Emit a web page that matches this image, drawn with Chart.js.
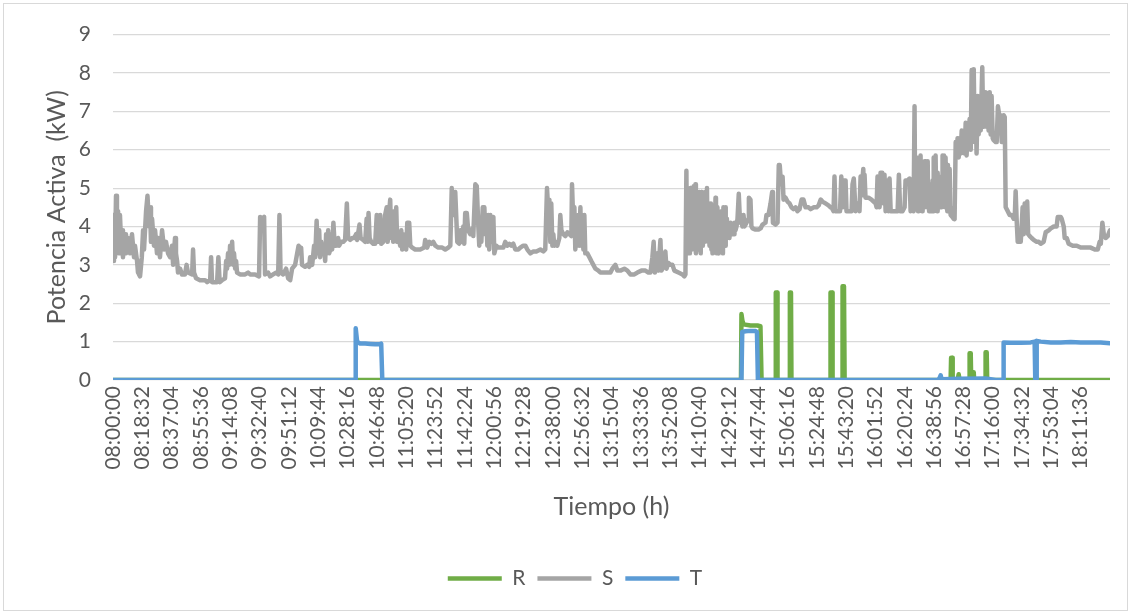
<!DOCTYPE html>
<html>
<head>
<meta charset="utf-8">
<script src="https://cdn.jsdelivr.net/npm/chart.js@4.4.1/dist/chart.umd.min.js"></script>
<style>
html, body { margin: 0; padding: 0; background: #fff; }
#wrap { position: relative; width: 1132px; height: 615px; }
#grafico { position: absolute; left: 0; top: 0; }
#marco { position: absolute; left: 3px; top: 3px; width: 1125px; height: 608px; border: 1px solid #d9d9d9; box-sizing: border-box; pointer-events: none; }
</style>
</head>
<body>
<div id="wrap">
  <canvas id="grafico" width="1132" height="615"></canvas>
  <div id="marco"></div>
</div>
<script>
// etiquetas del eje X (hora)
var etiquetas = ['08:00:00','08:18:32','08:37:04','08:55:36','09:14:08','09:32:40','09:51:12','10:09:44',
  '10:28:16','10:46:48','11:05:20','11:23:52','11:42:24','12:00:56','12:19:28','12:38:00','12:56:32',
  '13:15:04','13:33:36','13:52:08','14:10:40','14:29:12','14:47:44','15:06:16','15:24:48','15:43:20',
  '16:01:52','16:20:24','16:38:56','16:57:28','17:16:00','17:34:32','17:53:04','18:11:36'];

// minutos desde las 08:00:00, kW
var faseR = [[0,0],[396.9,0],[397.2,1.72],[397.8,1.55],[398.5,1.45],[402.9,1.42],[407.3,1.42],[409.2,1.4],[409.9,0],
  [418.7,0],[418.9,2.28],[419.7,2.28],[420.0,0],[427.6,0],[427.8,2.28],[428.5,2.28],[428.8,0],
  [453.2,0],[453.5,2.28],[454.5,2.28],[454.8,0],[460.8,0],[461.1,2.44],[462.0,2.44],[462.4,0],
  [529.4,0],[529.7,0.58],[530.4,0.58],[530.7,0],[533.8,0],[534.5,0.15],[535.1,0],[541.1,0],[541.4,0.7],
  [542.1,0.7],[542.4,0],[543.6,0],[544.0,0.2],[544.3,0],[551.2,0],[551.5,0.72],[552.2,0.72],[552.5,0],[630.1,0]];

var faseS = [[0,3.1],[0.6,4.3],[1.3,3.2],[1.9,4.8],[2.5,4.0],[3.2,4.4],[3.8,3.3],[4.4,4.3],[5.1,3.6],[5.7,3.9],
  [6.3,3.2],[7.6,3.8],[8.2,3.3],[9.5,3.7],[10.8,3.3],[12.0,3.8],[13.3,3.2],[13.9,3.5],[15.2,3.1],[15.8,2.8],
  [17.1,2.7],[18.2,3.2],[19.0,3.9],[19.6,3.4],[20.9,4.4],[21.8,4.8],[22.8,4.0],[23.4,4.5],[24.0,3.6],[24.7,4.2],
  [25.9,3.5],[26.6,3.9],[27.8,3.3],[28.5,3.7],[29.7,3.2],[31.0,3.9],[32.3,3.4],[33.5,3.6],[34.8,3.3],[36.1,3.2],
  [37.3,3.5],[38.0,3.0],[39.2,3.7],[39.8,3.3],[40.5,3.1],[41.1,2.8],[42.4,2.9],[43.6,2.75],[45.5,2.75],[46.5,3.0],
  [47.4,2.8],[50.0,2.75],[50.6,3.4],[51.2,2.8],[52.5,2.65],[55.0,2.6],[58.2,2.6],[59.5,2.55],[61.4,2.6],[62.0,3.2],
  [62.6,2.55],[65.8,2.55],[66.6,3.2],[67.4,2.55],[68.9,2.6],[70.8,2.65],[71.5,3.1],[72.1,2.9],[72.7,3.3],[73.4,3.0],
  [74.0,3.5],[74.6,3.2],[75.3,3.6],[75.9,3.0],[76.5,3.3],[77.2,2.9],[77.8,3.1],[78.4,2.8],[80.3,2.75],[83.5,2.75],
  [85.4,2.8],[86.7,2.75],[89.8,2.75],[92.3,2.7],[93.0,4.25],[94.2,4.2],[95.5,4.25],[96.1,2.75],[98.0,2.8],[99.3,2.7],
  [101.2,2.75],[103.1,2.8],[104.4,2.75],[105.2,4.3],[105.9,2.8],[107.5,2.75],[109.4,2.9],[110.7,2.65],[112.0,2.6],
  [113.2,2.9],[115.1,3.0],[116.4,3.3],[117.3,3.5],[118.3,3.3],[118.9,3.45],[119.5,3.0],[121.4,2.95],[122.7,3.0],
  [124.0,2.95],[124.6,3.2],[125.9,3.0],[127.1,3.5],[127.8,3.2],[128.7,4.15],[129.3,3.3],[130.3,3.9],[130.9,3.2],
  [131.6,3.6],[132.2,3.3],[133.5,3.4],[134.1,3.1],[134.7,3.8],[135.4,3.3],[136.0,3.9],[136.6,3.3],[137.3,3.4],
  [137.9,3.8],[138.5,3.4],[139.3,4.1],[140.1,3.5],[141.0,3.5],[142.3,3.7],[142.9,3.5],[144.2,3.6],[145.5,3.6],
  [146.7,3.65],[147.8,4.6],[148.6,3.7],[149.9,3.65],[151.2,3.7],[152.4,3.7],[153.7,3.8],[154.3,3.65],[155.8,4.05],
  [156.5,3.7],[158.1,3.65],[159.4,3.6],[160.3,4.2],[161.0,3.6],[161.5,4.35],[162.2,3.7],[163.2,3.6],[164.5,3.55],
  [165.7,3.55],[166.7,4.3],[167.6,3.6],[168.2,3.8],[168.9,4.3],[169.5,3.55],[170.8,3.6],[172.0,4.3],[173.0,4.5],
  [173.6,3.6],[174.6,4.4],[175.2,4.7],[175.8,3.7],[176.5,4.2],[177.1,3.6],[177.7,4.4],[178.4,3.7],[179.0,4.5],
  [179.6,3.6],[180.3,3.8],[181.5,3.5],[182.2,3.9],[182.8,3.4],[183.4,3.8],[184.1,3.5],[185.3,3.4],[186.0,4.1],
  [187.2,4.1],[187.9,3.5],[189.1,3.45],[191.0,3.4],[194.2,3.4],[196.7,3.45],[197.3,3.65],[198.6,3.45],[199.9,3.6],
  [201.1,3.55],[202.4,3.6],[203.7,3.5],[205.6,3.45],[208.1,3.45],[210.0,3.4],[211.9,3.45],[213.2,3.5],[214.1,5.0],
  [215.1,4.3],[216.3,4.9],[217.6,3.6],[218.8,3.55],[219.5,3.9],[220.7,3.6],[221.4,4.0],[222.0,3.55],[222.6,4.35],
  [223.6,4.35],[224.5,3.9],[225.8,3.8],[227.1,3.95],[227.7,3.75],[229.0,5.1],[229.9,5.05],[230.9,4.0],[231.5,3.5],
  [232.1,4.1],[232.8,3.6],[233.7,4.5],[234.7,4.5],[235.3,3.8],[235.9,4.2],[236.6,3.5],[237.2,4.3],[237.8,3.4],
  [238.5,4.3],[239.1,3.6],[240.4,4.25],[241.0,3.3],[242.2,3.5],[243.5,3.45],[245.4,3.45],[246.7,3.45],[247.9,3.6],
  [249.2,3.5],[250.5,3.55],[251.7,3.5],[253.0,3.55],[254.3,3.4],[256.2,3.4],[257.4,3.45],[259.3,3.5],[260.6,3.5],
  [261.9,3.4],[263.8,3.3],[265.7,3.35],[267.6,3.35],[270.1,3.4],[272.0,3.35],[273.2,3.4],[274.3,5.0],[275.1,4.4],
  [275.8,4.7],[276.4,3.6],[277.0,4.6],[277.7,3.5],[278.3,3.8],[278.9,3.5],[279.6,3.6],[280.8,3.5],[282.1,3.7],
  [282.7,4.3],[283.4,3.9],[284.6,3.8],[285.9,3.75],[287.2,3.85],[288.4,3.8],[289.7,3.75],[290.1,5.1],[291.0,4.0],
  [291.6,4.5],[292.2,3.4],[292.8,4.2],[293.5,3.6],[294.1,4.3],[294.7,3.5],[295.4,4.5],[296.0,3.5],[296.6,4.3],
  [297.3,3.4],[297.9,4.3],[298.5,3.3],[299.8,3.3],[301.1,3.2],[302.3,3.1],[303.6,3.0],[304.9,2.9],[306.8,2.85],
  [308.0,2.8],[311.2,2.8],[314.4,2.8],[315.6,2.9],[317.5,3.0],[318.8,2.85],[320.7,2.85],[323.2,2.9],[325.1,2.85],
  [327.0,2.75],[329.5,2.75],[331.4,2.8],[334.0,2.85],[336.5,2.85],[338.4,2.8],[339.7,2.8],[340.9,3.2],[341.7,3.6],
  [342.5,2.8],[343.4,3.2],[344.1,3.3],[344.7,2.85],[346.0,3.65],[346.6,2.85],[347.9,2.95],[349.1,3.35],[349.8,2.9],
  [351.0,3.05],[352.3,3.0],[353.6,3.0],[354.8,2.85],[357.4,2.8],[359.9,2.75],[361.1,2.7],[361.8,2.75],
  [362.4,5.45],[362.8,3.3],[363.1,4.1],[363.4,3.3],[363.7,4.5],[364.0,3.4],[364.3,4.6],[364.6,3.3],[365.0,5.0],
  [365.3,3.5],[365.6,4.4],[365.9,3.4],[366.2,4.8],[366.6,3.6],[367.0,5.05],[367.4,3.4],[367.8,4.6],[368.1,5.1],
  [368.4,3.3],[368.7,4.2],[369.0,3.4],[369.4,4.7],[369.7,3.5],[370.0,4.4],[370.3,3.4],[370.6,4.9],[371.0,3.5],
  [371.3,4.3],[371.6,3.3],[371.9,4.9],[372.2,3.6],[372.5,4.5],[372.8,3.5],[373.2,4.2],[373.5,3.6],[373.8,4.6],
  [374.1,3.6],[374.4,4.9],[374.9,3.7],[375.4,5.0],[375.7,3.8],[376.0,4.4],[376.3,3.6],[376.6,4.6],[377.0,3.5],
  [377.3,4.2],[377.6,3.5],[377.9,4.6],[378.2,3.4],[378.5,4.1],[378.9,3.3],[379.2,3.9],[379.5,3.4],[379.8,4.3],
  [380.3,3.4],[380.8,4.75],[381.1,3.4],[381.4,4.2],[381.7,3.3],[382.0,4.5],[382.4,3.4],[382.7,4.0],[383.0,3.3],
  [383.3,4.3],[383.6,3.5],[383.9,4.0],[384.2,3.4],[384.6,4.4],[384.9,3.5],[385.2,4.0],[385.5,3.3],[385.8,4.5],
  [386.2,3.6],[386.5,4.2],[386.8,3.5],[387.1,4.5],[387.4,3.8],[387.7,4.2],[388.0,3.7],[388.4,4.1],[388.7,3.8],
  [389.0,4.0],[389.6,3.7],[390.3,4.1],[390.9,3.8],[391.5,4.0],[391.8,3.8],[392.2,4.0],[392.5,3.8],[392.8,4.1],
  [393.4,3.9],[394.1,4.0],[394.7,4.2],[395.5,4.85],[396.3,4.1],[397.2,4.2],[397.8,4.0],[398.5,4.3],[399.1,4.0],
  [400.4,4.1],[401.6,4.2],[401.9,4.75],[402.9,4.7],[403.5,4.0],[404.2,3.95],[406.1,3.92],[408.0,3.92],[409.3,3.95],
  [410.5,4.05],[412.4,4.1],[413.0,4.3],[414.3,4.3],[415.6,4.6],[416.6,4.9],[417.1,4.1],[418.7,4.05],[420.0,4.1],
  [420.8,5.6],[421.4,5.6],[422.2,5.1],[423.2,5.3],[423.8,4.7],[425.1,4.75],[426.3,4.65],[427.6,4.6],[428.8,4.5],
  [430.1,4.45],[431.4,4.5],[432.6,4.4],[433.9,4.45],[435.2,4.7],[436.4,4.7],[437.7,4.5],[439.6,4.5],[440.9,4.45],
  [442.8,4.5],[444.7,4.5],[446.0,4.55],[447.3,4.7],[448.4,4.65],[450.3,4.6],[452.2,4.55],[453.5,4.5],
  [454.1,4.5],[455.4,4.4],[456.0,5.3],[456.6,4.4],[458.5,4.4],[459.5,4.4],[460.3,5.3],[461.1,4.5],[461.7,5.2],
  [463.0,5.2],[463.6,4.4],[465.5,4.4],[466.8,4.4],[467.4,5.1],[468.2,5.25],[469.3,4.4],[470.6,4.6],[471.8,4.4],
  [472.5,5.3],[473.1,4.9],[474.2,5.5],[474.7,4.8],[475.0,5.35],[475.6,4.75],[477.5,4.75],[479.4,4.7],[480.7,4.65],
  [482.0,4.6],[482.6,4.5],[483.2,5.3],[484.0,5.2],[484.5,4.5],[485.1,5.4],[486.2,5.4],[487.0,4.6],[487.6,5.35],
  [488.3,4.4],[489.5,5.2],[490.2,4.4],[490.8,5.25],[491.5,4.4],[492.7,4.4],[494.6,4.4],[495.9,4.4],[496.7,5.35],
  [497.5,4.4],[499.0,4.4],[500.3,4.5],[500.9,5.2],[502.2,5.2],[503.5,5.25],[504.1,4.4],[505.4,4.45],[506.0,4.4],
  [506.6,7.13],[507.0,4.5],[507.3,5.2],[507.6,4.5],[507.9,5.8],[508.2,4.6],[508.5,4.9],[508.8,4.4],[509.2,5.3],
  [509.5,4.5],[509.8,5.1],[510.1,4.6],[510.4,5.85],[510.8,4.5],[511.1,5.2],[511.4,4.4],[511.7,5.0],[512.0,4.6],
  [512.3,5.3],[512.6,4.5],[513.0,5.7],[513.3,4.8],[513.6,5.7],[513.9,4.6],[514.2,5.1],[514.5,4.5],[514.9,5.7],
  [515.2,4.6],[515.5,5.0],[515.8,4.4],[516.1,4.7],[516.5,4.5],[516.8,5.1],[517.1,4.4],[517.4,5.0],[517.7,4.6],
  [518.0,5.2],[518.3,4.4],[518.7,5.8],[519.0,4.6],[519.3,5.2],[519.6,4.5],[519.9,5.85],[520.3,4.6],[520.6,5.0],
  [520.9,4.4],[521.2,5.4],[521.5,4.6],[521.8,5.1],[522.1,4.5],[522.4,4.9],[522.8,4.6],[523.1,5.0],[523.4,4.5],
  [523.7,5.3],[524.0,4.6],[524.3,5.85],[524.7,4.8],[525.2,5.85],[525.4,4.6],[525.6,5.2],[525.9,4.5],[526.2,5.8],
  [526.5,4.6],[526.9,5.1],[527.3,4.4],[527.7,5.6],[527.9,4.6],[528.1,5.0],[528.4,4.4],[528.8,5.5],[529.1,4.5],
  [529.4,4.3],[530.5,4.25],[531.3,4.2],[531.9,4.19],[532.6,6.2],[533.2,5.9],[533.8,6.3],[534.5,5.8],[535.1,6.3],
  [535.7,5.9],[536.4,6.5],[537.0,6.0],[537.6,6.4],[538.3,5.9],[538.9,6.7],[539.5,5.85],[540.2,6.6],[540.8,6.2],
  [541.4,6.8],[542.1,6.0],[542.7,8.08],[543.3,6.2],[544.0,8.1],[544.6,6.3],[545.2,7.3],
  [545.8,5.9],[546.5,7.4],[547.1,6.4],[547.7,7.2],[548.4,6.5],[549.0,7.5],[549.4,8.15],[550.0,6.6],[550.3,7.3],
  [550.9,6.7],[551.5,7.5],[552.2,6.6],[552.8,7.4],[553.4,6.5],[554.1,7.5],[554.7,6.4],[555.3,7.4],[556.0,6.3],
  [556.6,6.25],[557.9,6.2],[558.5,6.2],[559.3,7.13],[560.1,6.9],[561.0,6.9],[561.7,6.2],[562.3,6.2],[562.9,6.9],
  [563.6,6.85],[564.2,4.5],[565.5,4.4],[566.7,4.3],[568.0,4.3],[569.3,4.2],[569.9,4.2],[570.5,4.92],[571.1,4.2],
  [571.8,3.6],[573.0,3.6],[573.7,3.6],[574.3,4.0],[574.9,4.5],[575.6,3.8],[576.2,4.6],[576.8,4.0],[577.8,4.65],
  [578.4,3.8],[579.4,3.75],[580.6,3.7],[581.9,3.65],[583.8,3.6],[585.1,3.6],[586.3,3.55],[588.2,3.6],[589.5,3.85],
  [591.4,3.9],[592.7,3.95],[594.6,4.0],[596.4,4.0],[597.1,4.25],[599.0,4.25],[599.6,4.2],[600.9,4.0],[601.5,3.7],
  [602.8,3.7],[604.0,3.55],[606.6,3.5],[609.1,3.5],[611.6,3.45],[614.8,3.45],[617.9,3.45],[620.5,3.4],[622.4,3.4],
  [623.6,3.6],[624.3,3.55],[625.3,4.1],[626.2,3.8],[627.4,3.7],[628.7,3.75],[630.1,3.9]];

var faseT = [[0,0],[153.1,0],[153.4,1.35],[154.3,1.0],[156.2,0.95],[159.4,0.95],[162.6,0.94],[165.7,0.93],
  [168.9,0.93],[169.5,0.95],[170.2,0],[397.2,0],[397.7,1.25],[399.7,1.27],[402.9,1.28],[406.1,1.28],[407.0,1.25],
  [407.6,0],[521.8,0],[522.4,0.05],[523.1,0.12],[523.7,0.02],[535.7,0.03],[551.5,0.04],[557.9,0],[562.6,0],
  [562.9,0.98],[567.4,0.97],[573.7,0.97],[580.0,0.98],[582.5,1.0],[582.9,0],[583.5,0],[583.8,1.02],[586.3,1.0],
  [592.7,0.98],[599.0,0.98],[605.3,0.99],[611.6,0.98],[617.9,0.98],[624.3,0.98],[630.1,0.96]];

var finMin = 630.13;

function aMinutos(hora) {
  var p = hora.split(':');
  return (parseInt(p[0]) * 3600 + parseInt(p[1]) * 60 + parseInt(p[2]) - 8 * 3600) / 60;
}

var gris = '#595959';
Chart.defaults.font.family = 'Lato, "Noto Sans", sans-serif';
Chart.defaults.color = gris;

const canvas = document.getElementById('grafico');
const grafico = new Chart(canvas, {
  type: 'line',
  data: {
    datasets: [
      { label: 'R', data: faseR, borderColor: '#70AD47', backgroundColor: '#70AD47', borderWidth: 4.5, order: 3 },
      { label: 'S', data: faseS, borderColor: '#A5A5A5', backgroundColor: '#A5A5A5', borderWidth: 4.5, order: 2 },
      { label: 'T', data: faseT, borderColor: '#5B9BD5', backgroundColor: '#5B9BD5', borderWidth: 4.5, order: 1 }
    ]
  },
  options: {
    responsive: false,
    animation: false,
    events: [],
    elements: {
      line: { tension: 0, borderJoinStyle: 'round', borderCapStyle: 'round' },
      point: { radius: 0, hoverRadius: 0 }
    },
    layout: { padding: { left: 40, right: 22, top: 33, bottom: 16 } },
    plugins: {
      legend: {
        position: 'bottom',
        labels: {
          usePointStyle: true,
          pointStyle: 'line',
          pointStyleWidth: 54,
          padding: 12,
          color: gris,
          font: { size: 21 },
          sort: function (a, b) { return a.datasetIndex - b.datasetIndex; }
        }
      },
      tooltip: { enabled: false }
    },
    scales: {
      x: {
        type: 'linear',
        min: 0,
        max: finMin,
        afterBuildTicks: function (scale) {
          scale.ticks = etiquetas.map(function (t) { return { value: aMinutos(t) }; });
        },
        afterFit: function (scale) { scale.height = 176; },
        ticks: {
          autoSkip: false,
          minRotation: 90,
          maxRotation: 90,
          padding: 6,
          color: gris,
          font: { size: 21 },
          callback: function (v, i) { return etiquetas[i]; }
        },
        grid: { display: false, drawTicks: false },
        border: { display: false },
        title: { display: true, text: 'Tiempo (h)', color: gris, font: { size: 25 }, padding: { top: 0, bottom: 34 } }
      },
      y: {
        min: 0,
        max: 9,
        afterFit: function (scale) { scale.width = 73; },
        ticks: { stepSize: 1, padding: 22, color: gris, font: { size: 21 } },
        grid: { color: '#d9d9d9', lineWidth: 1.2, drawTicks: false },
        border: { display: false },
        title: { display: true, text: 'Potencia Activa  (kW)', color: gris, font: { size: 25 }, padding: { top: 2, bottom: 0 } }
      }
    }
  }
});
</script>
</body>
</html>
